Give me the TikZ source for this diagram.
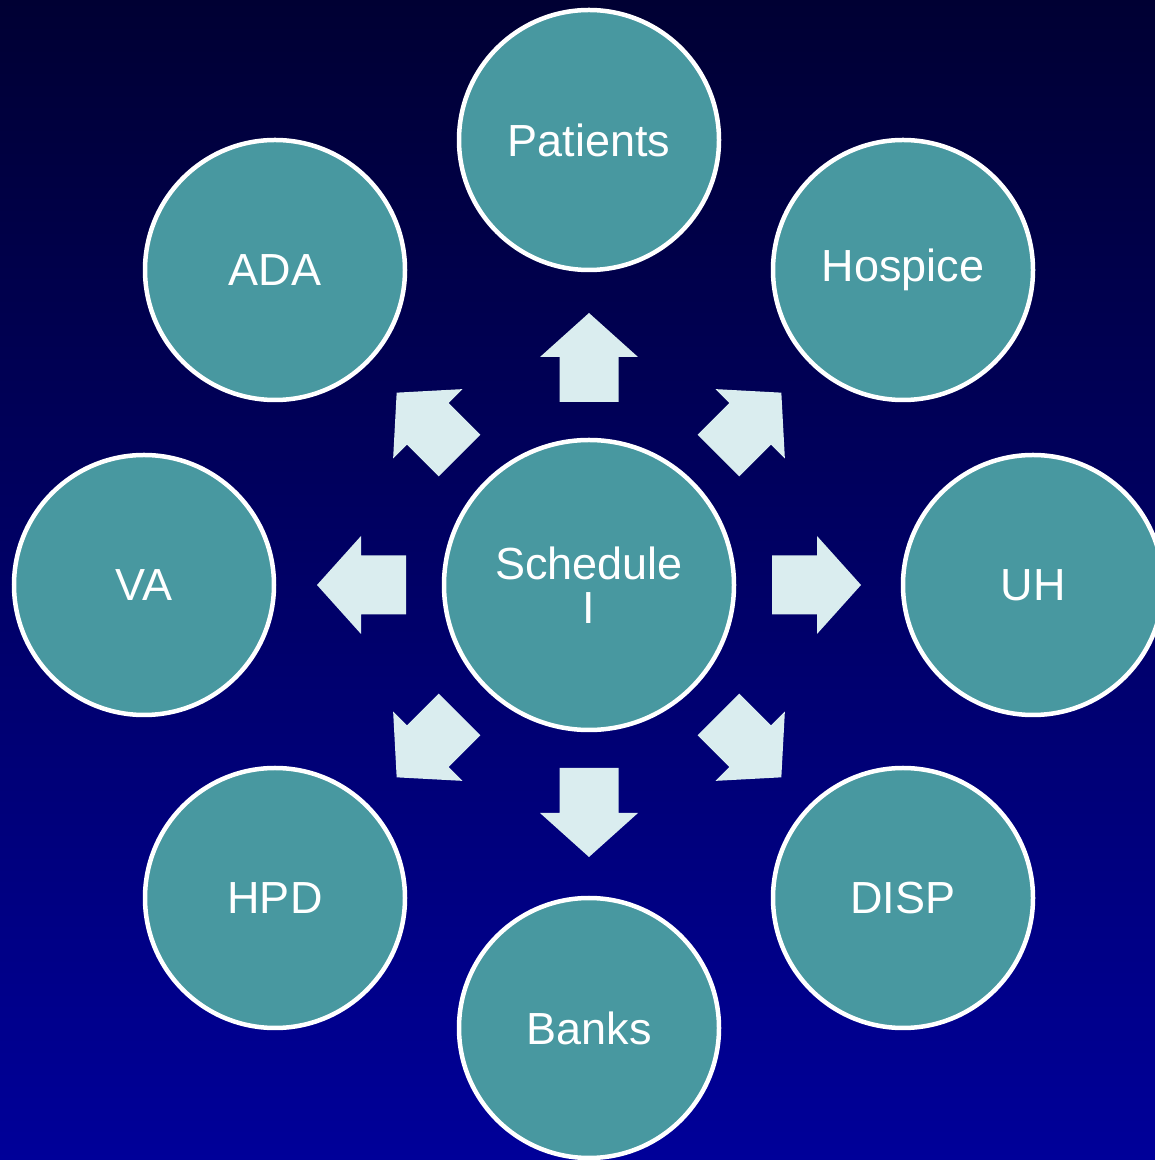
\documentclass[tikz,border=0pt]{standalone}
\usepackage{fontspec}
\setmainfont{Liberation Sans}
\definecolor{bgtop}{HTML}{000033}
\definecolor{bgbot}{HTML}{000099}
\definecolor{teal}{HTML}{4898A0}
\definecolor{arr}{HTML}{DAEDEF}
\tikzset{
  bubble/.style={circle, fill=teal, draw=white, line width=4.5pt, text=white,
    minimum size=260pt, inner sep=0pt, align=center,
    font=\fontsize{45}{44}\selectfont},
  hub/.style={bubble, minimum size=290pt},
  blockarrow/.style={fill=arr, draw=none}
}
\begin{document}
\begin{tikzpicture}[x=1pt,y=1pt]
\useasboundingbox (0,0) rectangle (1155,1160);
\clip (0,0) rectangle (1155,1160);
\shade[top color=bgtop, bottom color=bgbot] (0,0) rectangle (1155,1160);
\node[hub] (c) at (589,575) {Schedule\\I};
\node[bubble] (pat) at (589,1020) {Patients};
\node[bubble] (hos) at (903,890) {Hospice};
\node[bubble] (uh) at (1033,575) {UH};
\node[bubble] (disp) at (903,262) {DISP};
\node[bubble] (banks) at (589,132) {Banks};
\node[bubble] (hpd) at (275,262) {HPD};
\node[bubble] (va) at (144,575) {VA};
\node[bubble] (ada) at (275,890) {ADA};
\foreach \a in {0,45,...,315}{
  \begin{scope}[shift={(c.center)}, rotate=\a]
    \fill[blockarrow] (183,-29.5) -- (228,-29.5) -- (228,-49) -- (272,0)
      -- (228,49) -- (228,29.5) -- (183,29.5) -- cycle;
  \end{scope}
}
\end{tikzpicture}
\end{document}
